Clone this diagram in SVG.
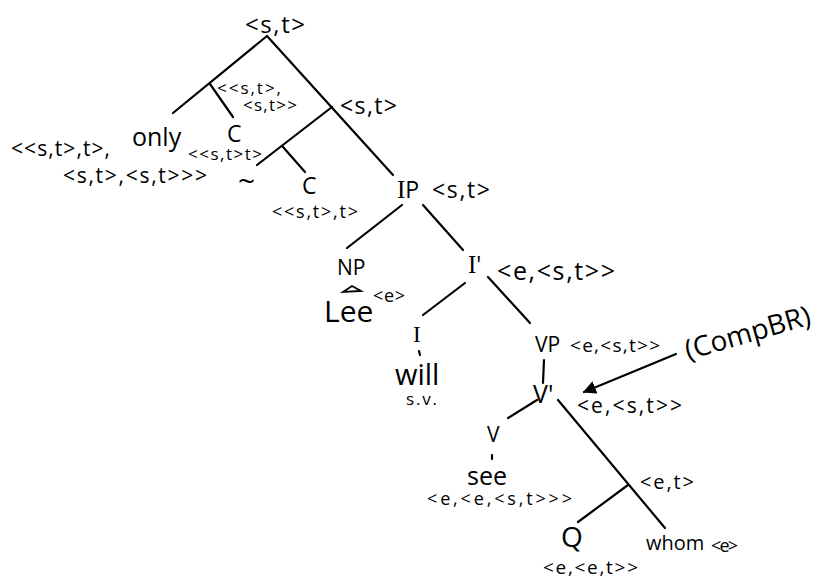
<svg xmlns="http://www.w3.org/2000/svg" width="824" height="581" viewBox="0 0 824 581">
<defs>
<style>
text{font-family:"Open Sans","Noto Sans",sans-serif;fill:#000;font-weight:500}
.e{stroke:#000;stroke-width:2.2;fill:none;stroke-linecap:round}
.s{font-size:18px}
.m{font-size:21px}
.b{font-size:23px}
.xl{font-size:28px}
.r{font-family:"Liberation Serif",serif}
</style>
<marker id="ah" viewBox="0 0 10 10" refX="9" refY="5" markerWidth="6" markerHeight="6" orient="auto">
<path d="M0,0 L10,5 L0,10 z" fill="#000"/>
</marker>
</defs>
<rect width="824" height="581" fill="#fff"/>
<g id="connectors">
<line class="e" x1="267" y1="36" x2="173" y2="113"/>
<line class="e" x1="210" y1="84" x2="233" y2="117"/>
<line class="e" x1="267" y1="36" x2="393" y2="175"/>
<line class="e" x1="332" y1="107" x2="257" y2="165"/>
<line class="e" x1="283" y1="147" x2="305" y2="172"/>
<line class="e" x1="402" y1="205" x2="347" y2="248"/>
<line class="e" x1="423" y1="205" x2="463" y2="250"/>
<line class="e" x1="465" y1="283" x2="423" y2="315"/>
<line class="e" x1="488" y1="277" x2="530" y2="323"/>
<line class="e" x1="419" y1="351" x2="420" y2="355"/>
<line class="e" x1="544" y1="360" x2="543" y2="383"/>
<line class="e" x1="537" y1="400" x2="508" y2="418"/>
<line class="e" x1="558" y1="400" x2="665" y2="528"/>
<line class="e" x1="492" y1="455" x2="492" y2="459"/>
<line class="e" x1="628" y1="485" x2="578" y2="522"/>
<line class="e" x1="676" y1="354" x2="584" y2="392" marker-end="url(#ah)"/>
</g>
<g id="root"><text class="b" x="245" y="33" textLength="60" style="font-size:24px">&lt;s,t&gt;</text></g>
<g id="only-c-type"><text class="s" x="217" y="94" textLength="64" style="font-size:17px">&lt;&lt;s,t&gt;,</text><text class="s" x="243" y="111" textLength="54" style="font-size:17px">&lt;s,t&gt;&gt;</text></g>
<g id="mid"><text class="b" x="340" y="114" textLength="57">&lt;s,t&gt;</text></g>
<g id="only"><text class="xl" x="132" y="146" style="font-size:25px">only</text>
<text class="m" x="11" y="156" textLength="99">&lt;&lt;s,t&gt;,t&gt;,</text>
<text class="m" x="63" y="183" textLength="144">&lt;s,t&gt;,&lt;s,t&gt;&gt;&gt;</text></g>
<g id="c1"><text class="b" x="227" y="142">C</text>
<text class="s" x="188" y="160" textLength="74" style="font-size:17px">&lt;&lt;s,t&gt;t&gt;</text></g>
<g id="tilde"><text class="xl" x="238" y="192" style="font-size:30px">~</text></g>
<g id="c2"><text class="b" x="302" y="194">C</text>
<text class="s" x="272" y="218" textLength="86">&lt;&lt;s,t&gt;,t&gt;</text></g>
<g id="IP"><text class="b" x="397" y="198"><tspan class="r" style="font-size:25px">I</tspan>P</text>
<text class="b" x="432" y="198" textLength="58">&lt;s,t&gt;</text></g>
<g id="NP"><text class="b" x="337" y="275" style="font-size:21px">NP</text>
<path class="e" d="M343,292 L352,286 L361,291 Z" style="stroke-width:1.8"/>
<text class="xl" x="324" y="322" style="font-size:30px">Lee</text>
<text class="s" x="373" y="302" textLength="32">&lt;e&gt;</text></g>
<g id="Ibar"><text class="b" x="468" y="273"><tspan class="r" style="font-size:25px">I</tspan>'</text>
<text class="b" x="497" y="280" textLength="118" style="font-size:25px">&lt;e,&lt;s,t&gt;&gt;</text></g>
<g id="I"><text class="b r" x="413" y="342" style="font-size:23px">I</text>
<text class="xl" x="395" y="385" style="font-size:29px">will</text>
<text class="s" x="406" y="405" textLength="31" style="font-size:17px">s.v.</text></g>
<g id="VP"><text class="b" x="535" y="352" style="font-size:21px">VP</text>
<text class="s" x="570" y="352" textLength="90" style="font-size:19px">&lt;e,&lt;s,t&gt;&gt;</text></g>
<g id="Vbar"><text class="b" x="533" y="403" style="font-size:25px">V'</text>
<text class="m" x="577" y="413" textLength="105">&lt;e,&lt;s,t&gt;&gt;</text></g>
<g id="V"><text class="m" x="487" y="442">V</text>
<text class="xl" x="467" y="485" style="font-size:25px">see</text>
<text class="s" x="427" y="505" textLength="145">&lt;e,&lt;e,&lt;s,t&gt;&gt;&gt;</text></g>
<g id="et"><text class="m" x="640" y="489" textLength="54" style="font-size:20px">&lt;e,t&gt;</text></g>
<g id="Q"><text class="xl" x="561" y="547" style="font-size:28px">Q</text>
<text class="m" x="543" y="574" textLength="95" style="font-size:19px">&lt;e,&lt;e,t&gt;&gt;</text></g>
<g id="whom"><text class="b" x="646" y="550" style="font-size:20px">whom</text>
<text class="s" x="711" y="552" textLength="27">&lt;e&gt;</text></g>
<g id="CompBR"><text class="xl" x="688" y="360" style="font-size:28px" transform="rotate(-16 688 360)">(CompBR)</text></g>
</svg>
